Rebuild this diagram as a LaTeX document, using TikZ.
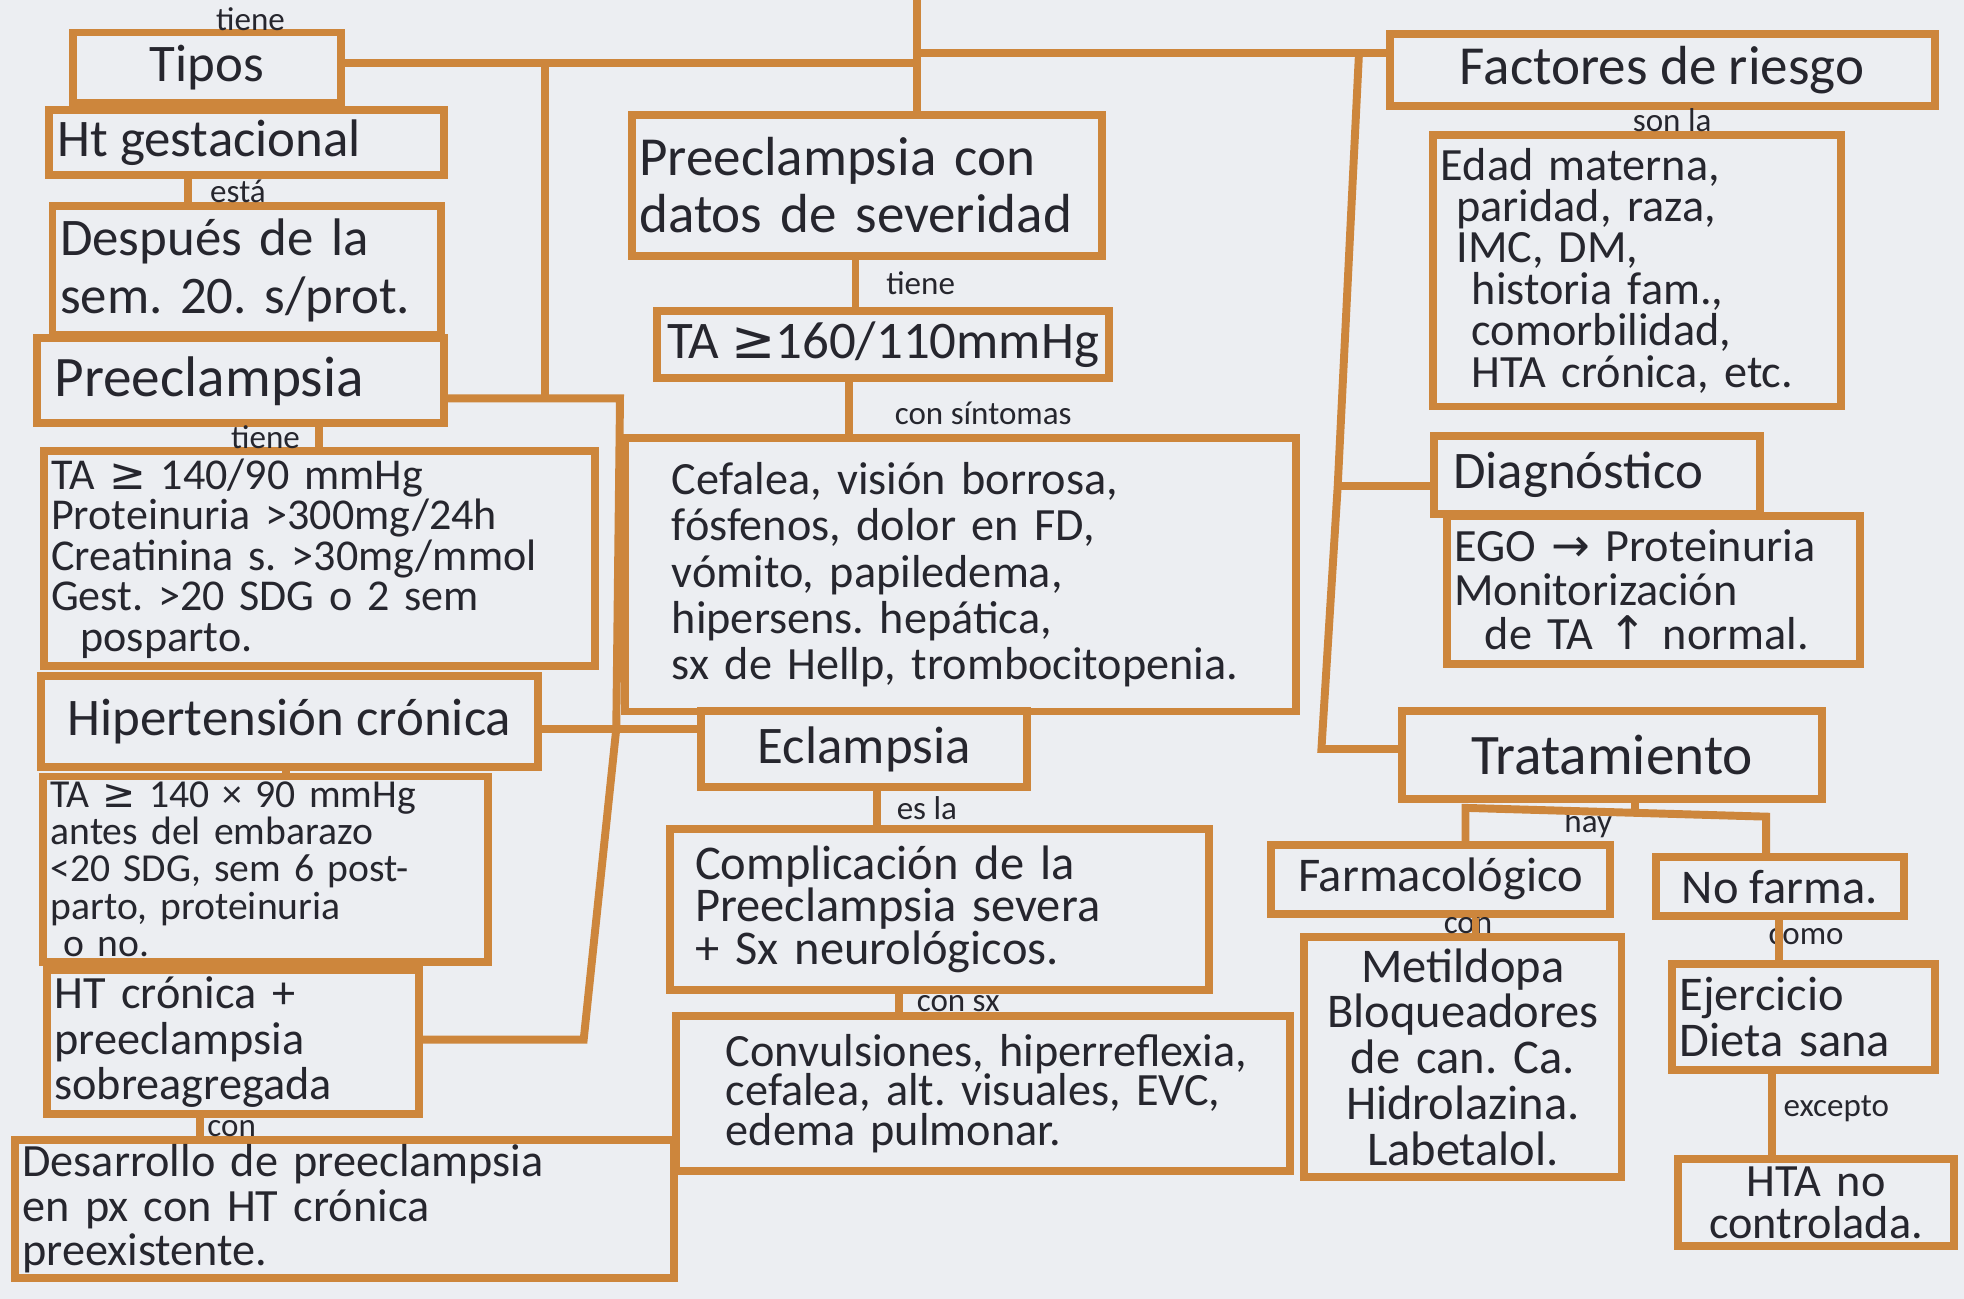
\documentclass[tikz,border=0pt]{standalone}
\usepackage{fontspec}
\setmainfont{Carlito}
\newfontfamily\symf{DejaVu Sans}
\definecolor{tinta}{RGB}{205,134,60}
\definecolor{papel}{RGB}{236,238,242}
\definecolor{lapiz}{RGB}{38,38,46}
\newcommand\letragr{\fontsize{12}{13}\selectfont}
\newcommand\letrame{\fontsize{10}{9.2}\selectfont}
\tikzset{
  caja/.style={draw=tinta, line width=1.8pt, text=lapiz, align=left,
    inner xsep=0.06cm, inner ysep=0.02cm},
  liga/.style={draw=tinta, line width=1.8pt},
  etiq/.style={text=lapiz, font=\fontsize{7.5}{8}\selectfont, inner sep=1pt},
}

\begin{document}
\frenchspacing
\begin{tikzpicture}[x=0.01cm, y=-0.01cm]
	\fill[papel] (0,0) rectangle (1568,1037);
	\useasboundingbox (0,0) rectangle (1568,1037);

	% columna izquierda
	\node[caja, minimum width=2.14cm, minimum height=0.56cm, font=\letragr, align=center] (tipos) at (165,54) {Tipos};
	\node[caja, minimum width=3.15cm, minimum height=0.52cm, font=\letragr] (htgest) at (197,114) {Ht gestacional\hspace{0.6cm}};
	\node[caja, text width=2.98cm, minimum height=1.03cm, font=\fontsize{12}{13}\selectfont] (despues) at (197,216) {Después de la\\sem. 20. s/prot.};
	\node[caja, minimum width=3.25cm, minimum height=0.68cm, font=\fontsize{13}{13}\selectfont] (preec) at (192,304) {Preeclampsia\hspace{0.5cm}};
	\node[caja, text width=4.28cm, minimum height=1.72cm, font=\letrame] (ta140) at (255,446) {TA {\symf ≥} 140/90 mmHg\\Proteinuria >300mg/24h\\Creatinina s. >30mg/mmol\\Gest. >20 SDG o 2 sem\\\ \ posparto.};
	\node[caja, minimum width=3.97cm, minimum height=0.72cm, font=\fontsize{12}{12}\selectfont] (hipcron) at (231,576) {Hipertensión crónica};
	\node[caja, text width=3.43cm, minimum height=1.48cm, inner ysep=0pt, font=\fontsize{9}{8.5}\selectfont] (ta140x) at (212,694) {TA {\symf ≥} 140 × 90 mmHg\\antes del embarazo\\<20 SDG, sem 6 post-\\parto, proteinuria\\\ o no.};
	\node[caja, text width=2.85cm, minimum height=1.15cm, font=\fontsize{10.5}{10.3}\selectfont] (htcp) at (186,832) {HT crónica +\\preeclampsia\\sobreagregada};
	\node[caja, text width=5.14cm, minimum height=1.10cm, font=\fontsize{10.5}{10.1}\selectfont] (desarrollo) at (275,965) {Desarrollo de preeclampsia\\en px con HT crónica\\preexistente.};

	% columna central
	\node[caja, text width=3.63cm, minimum height=1.13cm, font=\fontsize{12.5}{13}\selectfont] (pcsev) at (692,148) {Preeclampsia con\\datos de severidad};
	\node[caja, minimum width=3.60cm, minimum height=0.54cm, font=\fontsize{12}{12}\selectfont, align=center] (ta160) at (705,275) {TA {\symf ≥}160/110mmHg};
	\node[caja, text width=4.61cm, inner xsep=0.37cm, minimum height=2.18cm, font=\fontsize{10.5}{10.5}\selectfont] (cefalea) at (767,459) {Cefalea, visión borrosa,\\fósfenos, dolor en FD,\\vómito, papiledema,\\hipersens. hepática,\\sx de Hellp, trombocitopenia.};
	\node[caja, minimum width=2.60cm, minimum height=0.60cm, font=\letragr, align=center] (eclampsia) at (690,598) {Eclampsia};
	\node[caja, text width=3.90cm, inner xsep=0.2cm, minimum height=1.28cm, font=\fontsize{11}{9.6}\selectfont] (complic) at (750,726) {Complicación de la\\Preeclampsia severa\\+ Sx neurológicos.};
	\node[caja, text width=4.60cm, inner xsep=0.15cm, minimum height=1.23cm, font=\fontsize{10.5}{9}\selectfont] (convul) at (785,873) {\ \ Convulsiones, hiperreflexia,\\\ \ cefalea, alt. visuales, EVC,\\\ \ edema pulmonar.};

	% columna derecha
	\node[caja, minimum width=4.35cm, minimum height=0.57cm, font=\fontsize{12.5}{13}\selectfont, align=center] (factores) at (1327,56) {Factores de riesgo};
	\node[caja, text width=3.13cm, minimum height=2.17cm, font=\fontsize{10.5}{9.4}\selectfont] (edad) at (1307,216) {Edad materna,\\\ paridad, raza,\\\ IMC, DM,\\\ \ historia fam.,\\\ \ comorbilidad,\\\ \ HTA crónica, etc.};
	\node[caja, minimum width=2.60cm, minimum height=0.62cm, font=\letragr] (diag) at (1275,379) {Diagnóstico\hspace{0.3cm}};
	\node[caja, text width=3.18cm, minimum height=1.18cm, font=\fontsize{10.5}{10}\selectfont] (ego) at (1320,471) {EGO {\symf →} Proteinuria\\Monitorización\\\ \ de TA {\symf ↑} normal.};
	\node[caja, minimum width=3.35cm, minimum height=0.70cm, font=\fontsize{13}{13}\selectfont, align=center] (trat) at (1287,603) {Tratamiento};
	\node[caja, minimum width=2.70cm, minimum height=0.55cm, font=\fontsize{11}{11}\selectfont, align=center] (farma) at (1150,702) {Farmacológico};
	\node[caja, minimum width=1.98cm, minimum height=0.47cm, font=\fontsize{11}{11}\selectfont, align=center] (nofarma) at (1421,708) {No farma.};
	\node[caja, text width=2.41cm, minimum height=1.92cm, font=\fontsize{11}{10.4}\selectfont, align=center] (metil) at (1168,844) {Metildopa\\Bloqueadores\\de can. Ca.\\Hidrolazina.\\Labetalol.};
	\node[caja, text width=1.98cm, minimum height=0.85cm, font=\fontsize{11}{10.5}\selectfont] (ejer) at (1440,812) {Ejercicio\\Dieta sana};
	\node[caja, text width=2.08cm, minimum height=0.70cm, font=\fontsize{10.5}{9.5}\selectfont, align=center] (hta) at (1450,960) {HTA no\\controlada.};

	% etiquetas
	\node[etiq] (e1) at (200,15) {tiene};
	\node[etiq] (e2) at (190,153) {está};
	\node[etiq] (e3) at (212,349) {tiene};
	\node[etiq] (e4) at (185,901) {con};
	\node[etiq] (e5) at (735,226) {tiene};
	\node[etiq] (e6) at (785,330) {con síntomas};
	\node[etiq] (e7) at (740,645) {es la};
	\node[etiq] (e8) at (765,801) {con sx};
	\node[etiq] (e9) at (1335,96) {son la};
	\node[etiq] (e10) at (1268,658) {hay};
	\node[etiq] (e11) at (1172,739) {con};
	\node[etiq] (e12) at (1442,748) {como};
	\node[etiq] (e13) at (1466,885) {excepto};

	% troncos
	\coordinate (top) at (732,0);
	\coordinate (jl) at (732,50);
	\coordinate (jr) at (732,42);
	\coordinate (v1) at (435,50);
	\coordinate (j1) at (435,316);
	\coordinate (j1b) at (495,318);
	\coordinate (j2) at (492,582);
	\coordinate (j3) at (466,830);
	\coordinate (r0) at (1085,42);
	\coordinate (r1) at (1068,388);
	\coordinate (r2) at (1055,598);
	\coordinate (hb) at (1305,648);
	\coordinate (ha) at (1170,645);
	\coordinate (hc) at (1410,652);

	\draw[liga] (top) -- (pcsev.north -| top);
	\draw[liga] (tipos.east |- jl) -- (jl);
	\draw[liga] (jr) -- (factores.west |- jr);
	\draw[liga] (v1) -- (j1);
	\draw[liga] (preec.east |- j1b) -- (j1b) -- (j2) -- (j3) -- (htcp.east |- j3);
	\draw[liga] (hipcron.east |- j2) -- (j2) -- (eclampsia.west |- j2);
	\draw[liga] (r0) -- (r1) -- (r2) -- (trat.west |- r2);
	\draw[liga] (r1) -- (diag.west |- r1);

	% enlaces cortos
	\draw[liga] (htgest.south -| 150,0) -- (despues.north -| 150,0);
	\draw[liga] (preec.south -| 255,0) -- (ta140.north -| 255,0);
	\draw[liga] (hipcron.south -| 228,0) -- (ta140x.north -| 228,0);
	\draw[liga] (htcp.south -| 160,0) -- (desarrollo.north -| 160,0);
	\draw[liga] (pcsev.south -| 683,0) -- (ta160.north -| 683,0);
	\draw[liga] (ta160.south -| 678,0) -- (cefalea.north -| 678,0);
	\draw[liga] (eclampsia.south -| 700,0) -- (complic.north -| 700,0);
	\draw[liga] (complic.south -| 718,0) -- (convul.north -| 718,0);
	\draw[liga] (trat.south -| hb) -- (hb);
	\draw[liga] (farma.north -| ha) -- (ha) -- (hc) -- (nofarma.north -| hc);
	\draw[liga] (farma.south -| 1178,0) -- (metil.north -| 1178,0);
	\draw[liga] (nofarma.south -| 1420,0) -- (ejer.north -| 1420,0);
	\draw[liga] (ejer.south -| 1415,0) -- (hta.north -| 1415,0);
\end{tikzpicture}
\end{document}
